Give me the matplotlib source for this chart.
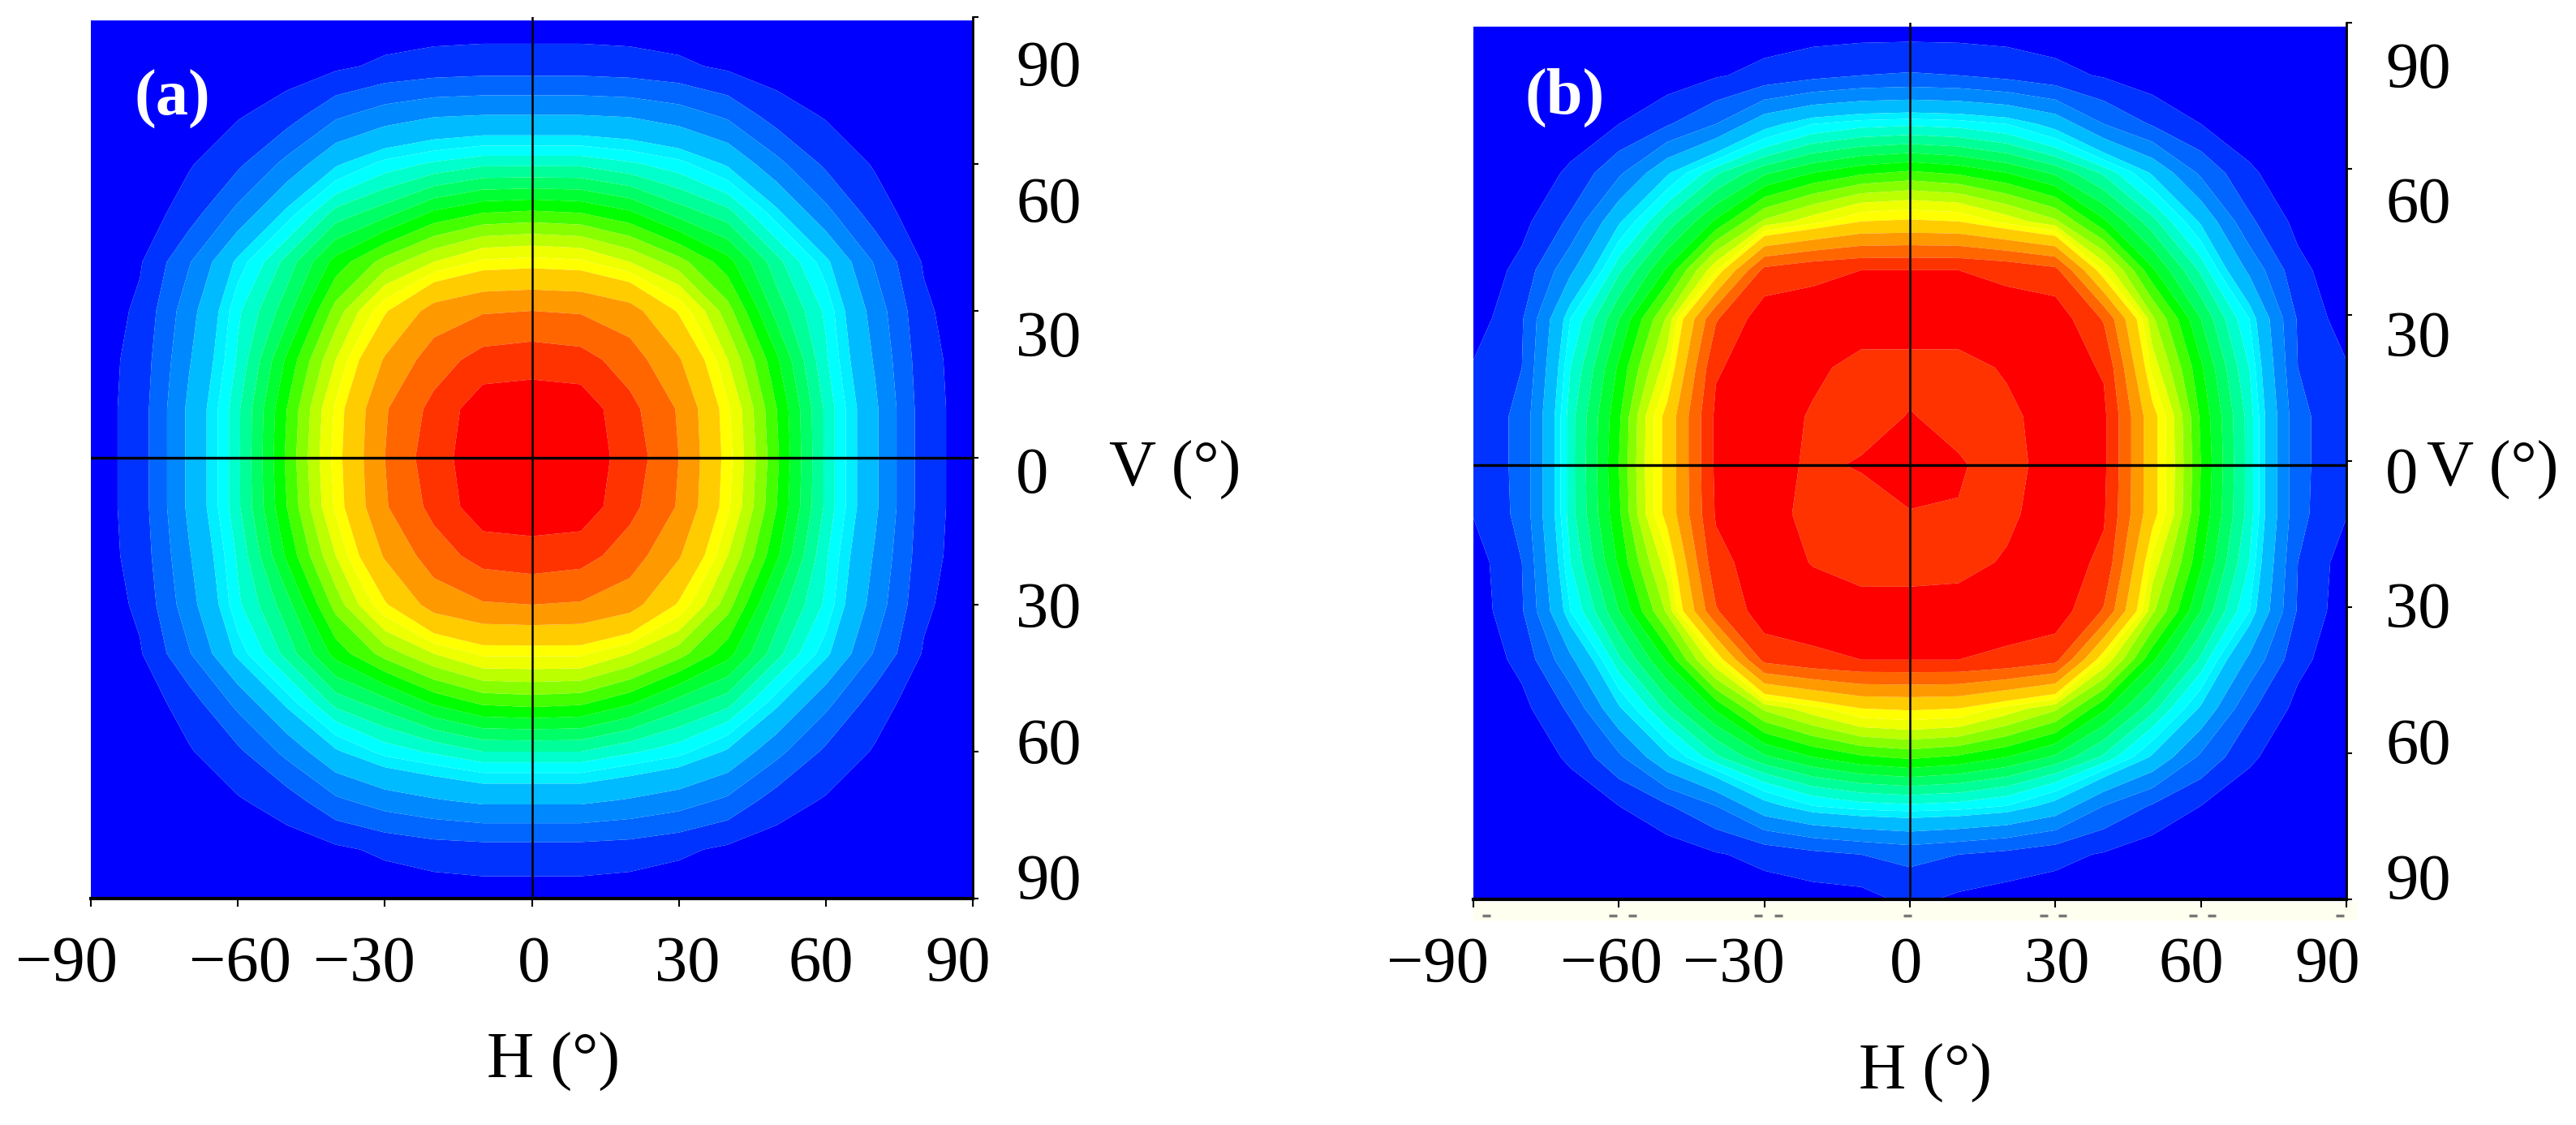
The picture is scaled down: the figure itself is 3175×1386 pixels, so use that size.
import matplotlib
matplotlib.use("Agg")
import matplotlib.pyplot as plt
from matplotlib.colors import BoundaryNorm, ListedColormap
from matplotlib.patches import Rectangle
from matplotlib.transforms import Affine2D

plt.rcParams['font.family'] = ['Liberation Serif', 'DejaVu Serif']

W, H = 3175, 1386

# angles of the grid, degrees
h_deg = [-90, -80, -70, -60, -50, -40, -30, -20, -10, 0, 10, 20, 30, 40, 50, 60, 70, 80, 90]
v_deg = [90, 80, 70, 60, 50, 40, 30, 20, 10, 0, -10, -20, -30, -40, -50, -60, -70, -80, -90]

# intensity, on the scale of the colour bands below
z_a = [
    [0, 0, 0, 0, .1, .2, .3, .4, .4, .4, .4, .4, .3, .2, .1, 0, 0, 0, 0],
    [0, 0, .1, .2, .5, .8, 1.2, 1.4, 1.5, 1.5, 1.5, 1.4, 1.2, .8, .5, .2, .1, 0, 0],
    [0, .1, .3, .9, 1.5, 2.8, 3.5, 3.9, 4.0, 4.0, 4.0, 3.9, 3.5, 2.8, 1.5, .9, .3, .1, 0],
    [0, .2, .9, 1.8, 3.3, 4.9, 5.7, 6.1, 6.4, 6.4, 6.4, 6.1, 5.7, 4.9, 3.3, 1.8, .9, .2, 0],
    [.1, .4, 1.5, 3.3, 5.2, 6.7, 7.3, 8.1, 8.5, 8.6, 8.5, 8.1, 7.3, 6.7, 5.2, 3.3, 1.5, .4, .1],
    [.2, .9, 2.9, 5.2, 6.7, 8.2, 9.2, 10.0, 10.6, 10.7, 10.6, 10.0, 9.2, 8.2, 6.7, 5.2, 2.9, .9, .2],
    [.3, 1.2, 3.6, 5.9, 7.3, 9.2, 10.9, 12.4, 12.9, 13.0, 12.9, 12.4, 10.9, 9.2, 7.3, 5.9, 3.6, 1.2, .3],
    [.4, 1.4, 3.9, 6.1, 8.1, 10.0, 12.1, 13.5, 14.4, 14.6, 14.4, 13.5, 12.1, 10.0, 8.1, 6.1, 3.9, 1.4, .4],
    [.4, 1.5, 4.2, 6.4, 8.5, 10.6, 12.9, 14.3, 15.6, 15.6, 15.6, 14.3, 12.9, 10.6, 8.5, 6.4, 4.2, 1.5, .4],
    [.4, 1.5, 4.2, 6.4, 8.6, 10.7, 13.0, 14.6, 15.6, 16.5, 15.6, 14.6, 13.0, 10.7, 8.6, 6.4, 4.2, 1.5, .4],
    [.4, 1.5, 4.2, 6.4, 8.5, 10.6, 12.9, 14.3, 15.6, 15.6, 15.6, 14.3, 12.9, 10.6, 8.5, 6.4, 4.2, 1.5, .4],
    [.4, 1.4, 3.9, 6.1, 8.1, 10.0, 12.1, 13.5, 14.4, 14.6, 14.4, 13.5, 12.1, 10.0, 8.1, 6.1, 3.9, 1.4, .4],
    [.3, 1.2, 3.6, 5.9, 7.3, 9.2, 10.9, 12.4, 12.9, 13.0, 12.9, 12.4, 10.9, 9.2, 7.3, 5.9, 3.6, 1.2, .3],
    [.2, .9, 2.9, 5.2, 6.7, 8.2, 9.2, 10.0, 10.6, 10.6, 10.6, 10.0, 9.2, 8.2, 6.7, 5.2, 2.9, .9, .2],
    [.1, .4, 1.5, 3.3, 5.2, 6.7, 7.3, 8.1, 8.6, 8.7, 8.6, 8.1, 7.3, 6.7, 5.2, 3.3, 1.5, .4, .1],
    [0, .2, .9, 1.8, 3.3, 4.9, 5.7, 6.1, 6.5, 6.5, 6.5, 6.1, 5.7, 4.9, 3.3, 1.8, .9, .2, 0],
    [0, .1, .3, .9, 1.5, 2.8, 3.5, 3.9, 4.2, 4.2, 4.2, 3.9, 3.5, 2.8, 1.5, .9, .3, .1, 0],
    [0, 0, .1, .2, .5, .8, 1.2, 1.5, 1.6, 1.6, 1.6, 1.5, 1.2, .8, .5, .2, .1, 0, 0],
    [0, 0, 0, 0, .1, .2, .3, .4, .5, .5, .5, .4, .3, .2, .1, 0, 0, 0, 0],
]

z_b = [
    [0, 0, 0, 0, .15, .3, .45, .5, .5, .5, .5, .5, .45, .3, .15, 0, 0, 0, 0],
    [0, 0, 0, .2, .4, .9, 1.3, 1.7, 2.0, 2.1, 2.0, 1.7, 1.3, .9, .4, .2, 0, 0, 0],
    [0, 0, .3, 1.0, 1.9, 3.0, 4.7, 5.5, 5.8, 5.9, 5.8, 5.5, 4.7, 3.0, 1.9, 1.0, .3, 0, 0],
    [0, .2, 1.2, 2.8, 4.9, 6.4, 7.4, 8.0, 8.4, 8.6, 8.4, 8.0, 7.4, 6.4, 4.9, 2.8, 1.2, .2, 0],
    [.1, .7, 2.2, 4.9, 6.7, 8.1, 9.6, 10.3, 11.0, 11.1, 11.0, 10.3, 9.6, 8.1, 6.7, 4.9, 2.2, .7, .1],
    [.3, 1.3, 3.8, 6.4, 8.1, 10.4, 14.3, 14.8, 15.0, 15.0, 15.0, 14.8, 14.3, 10.4, 8.1, 6.4, 3.8, 1.3, .3],
    [.45, 1.9, 5.5, 7.5, 9.6, 13.9, 15.6, 15.4, 15.5, 15.5, 15.5, 15.4, 15.6, 13.9, 9.6, 7.5, 5.5, 1.9, .45],
    [1.1, 2.0, 6.0, 8.1, 10.3, 14.9, 15.5, 15.2, 14.7, 14.7, 14.7, 15.1, 15.5, 14.9, 10.3, 8.1, 6.0, 2.0, 1.1],
    [1.2, 2.3, 6.3, 8.4, 11.3, 15.2, 15.5, 14.9, 14.6, 15.05, 14.7, 14.8, 15.4, 15.2, 11.3, 8.4, 6.3, 2.3, 1.2],
    [1.2, 2.3, 6.3, 8.5, 11.3, 15.2, 15.5, 14.8, 15.1, 16.0, 15.1, 14.6, 15.5, 15.2, 11.3, 8.5, 6.3, 2.3, 1.2],
    [1.05, 2.3, 6.3, 8.4, 11.3, 15.1, 15.4, 14.7, 14.5, 14.9, 14.95, 14.8, 15.5, 15.1, 11.3, 8.4, 6.3, 2.3, 1.05],
    [.5, 2.0, 6.0, 8.1, 10.3, 14.7, 15.5, 14.95, 14.6, 14.6, 14.7, 15.1, 15.5, 14.8, 10.3, 8.1, 6.0, 2.0, .5],
    [.4, 1.9, 5.5, 7.5, 9.6, 13.9, 15.6, 15.5, 15.4, 15.4, 15.4, 15.5, 15.6, 13.9, 9.6, 7.5, 5.5, 1.9, .4],
    [.3, 1.3, 3.8, 6.4, 8.1, 10.4, 14.3, 14.8, 15.0, 15.0, 15.0, 14.8, 14.3, 10.4, 8.1, 6.4, 3.8, 1.3, .3],
    [.1, .7, 2.2, 4.9, 6.7, 8.1, 9.6, 10.3, 11.0, 11.1, 11.0, 10.3, 9.6, 8.1, 6.7, 4.9, 2.2, .7, .1],
    [0, .2, 1.2, 2.8, 4.9, 6.4, 7.4, 8.0, 8.4, 8.6, 8.4, 8.0, 7.4, 6.4, 4.9, 2.8, 1.2, .2, 0],
    [0, 0, .3, 1.0, 1.9, 3.0, 4.7, 5.5, 5.8, 5.9, 5.8, 5.5, 4.7, 3.0, 1.9, 1.0, .3, 0, 0],
    [0, 0, 0, .2, .4, .9, 1.3, 1.7, 2.0, 2.3, 2.0, 1.7, 1.3, .9, .4, .2, 0, 0, 0],
    [0, 0, 0, 0, .1, .3, .4, .45, .5, 1.15, .7, .45, .4, .3, .1, 0, 0, 0, 0],
]

levels = [0, 1, 2, 3, 4, 5, 5.5, 6, 6.5, 7, 7.5, 8, 8.5, 9, 9.5, 10, 10.5, 11, 12, 13, 14, 15, 17]
band_colors = ['#0000ff', '#0033ff', '#0066ff', '#0088ff', '#00bbff', '#00eeff', '#00ffff',
               '#00ffcc', '#00ff99', '#00ff66', '#00ff33', '#00ff00', '#44ff00', '#88ff00',
               '#bbff00', '#eeff00', '#ffff00', '#ffcc00', '#ff9900', '#ff6600', '#ff3300', '#ff0000']

x_ticks = [-90, -60, -30, 0, 30, 60, 90]
y_ticks = [90, 60, 30, 0, -30, -60, -90]
x_tick_labels = ['\u221290', '\u221260', '\u221230', '0', '30', '60', '90']
y_tick_labels = ['90', '60', '30', '0', '30', '60', '90']

cmap = ListedColormap(band_colors)
norm = BoundaryNorm(levels, cmap.N)
fig = plt.figure(figsize=(W / 100, H / 100), dpi=100, facecolor='white')


def px_axes(left, top, right, bottom):
    return fig.add_axes([left / W, 1 - bottom / H, (right - left) / W, (bottom - top) / H])


def px_text(x, y, s, **kw):
    fig.text(x / W, 1 - y / H, s, ha='center', va='center', fontsize=58, **kw)


def panel(ax, z, v_shift, x_label_px, y_label_px, ylabel_left):
    ax.contourf(h_deg, [v + v_shift for v in v_deg], z, levels=levels, cmap=cmap, norm=norm,
                antialiased=True)
    ax.set_xlim(-90, 90)
    ax.set_ylim(-90, 90)
    ax.spines['top'].set_visible(False)
    ax.spines['left'].set_visible(False)
    ax.spines['right'].set_linewidth(2)
    ax.spines['bottom'].set_linewidth(3)
    ax.yaxis.tick_right()
    ax.set_xticks(x_ticks, x_tick_labels, fontsize=58)
    ax.set_yticks(y_ticks, y_tick_labels, fontsize=58)
    ax.tick_params(axis='x', length=7, width=1.5, pad=26)
    ax.tick_params(axis='y', length=5, width=1.5, pad=26)
    ax.axvline(0, color='black', lw=1.8, zorder=3)
    ax.axhline(v_shift, color='black', lw=2.4, zorder=3)
    # the labels do not sit exactly on their ticks in the original
    x0, y0, x1, y1 = ax.get_window_extent().extents
    for tick, lab, xp in zip(x_ticks, ax.get_xticklabels(), x_label_px):
        tick_x = x0 + (tick + 90) / 180 * (x1 - x0)
        lab.set_transform(lab.get_transform() + Affine2D().translate(xp - tick_x, 0))
    for tick, lab, yp in zip(y_ticks, ax.get_yticklabels(), y_label_px):
        tick_y = y0 + (tick + 90) / 180 * (y1 - y0)
        lab.set_transform(lab.get_transform() + Affine2D().translate(ylabel_left, (H - yp) - tick_y))


# panel (a)
ax_a = px_axes(112, 21, 1199, 1107)
panel(ax_a, z_a, 0, [82, 296, 449, 658, 847, 1012, 1181],
      [78, 246, 411, 579, 745, 913, 1080], 10)
ax_a.axhspan(89.5, 90, color='white', zorder=2)
px_text(212, 122, '(a)', color='white', fontweight='bold')
px_text(1448, 579, 'V (\u00b0)')
px_text(682, 1308, 'H (\u00b0)')

# panel (b)
ax_b = px_axes(1816, 28, 2892, 1108)
panel(ax_b, z_b, -0.8, [1772, 1986, 2137, 2349, 2535, 2701, 2869],
      [80, 246, 411, 579, 745, 913, 1080], 5)
px_text(1929, 120, '(b)', color='white', fontweight='bold')
px_text(3072, 579, 'V (\u00b0)')
px_text(2373, 1322, 'H (\u00b0)')

# pale strip and cut off marks under panel (b)
fig.add_artist(Rectangle((1816 / W, 1 - 1133 / H), 1089 / W, 21 / H, color='#fffff0', zorder=-1))
mark_h = [-87.4, -61.2, -57.2, -31.3, -27.1, -0.5, 27.6, 31.4, 58.3, 62.2, 88.7]
ax_b.plot(mark_h, [-93.3] * len(mark_h), ls='none', marker='_', ms=7, mew=2.5, color='#777777', clip_on=False)

fig.savefig('out.png', dpi=100)
